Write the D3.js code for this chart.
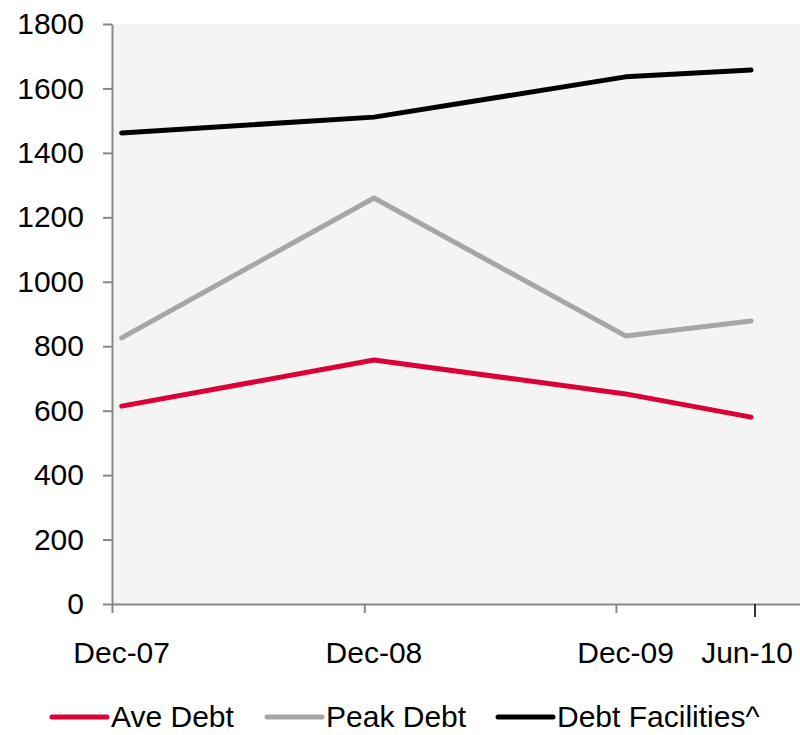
<!DOCTYPE html>
<html>
<head>
<meta charset="utf-8">
<script src="https://cdn.jsdelivr.net/npm/d3@7"></script>
<style>
  body { margin: 0; background: #fff; }
  svg { font-family: "Liberation Sans", Arial, sans-serif; }
</style>
</head>
<body>
<div id="chart"></div>
<script>
// data
var periods = ["2007-12-15", "2008-12-15", "2009-12-15", "2010-06-15"];
var periodLabels = ["Dec-07", "Dec-08", "Dec-09", "Jun-10"];
var tickDates = ["2007-12-01", "2008-12-01", "2009-12-01", "2010-06-20"];
var aveDebt = [614, 757, 652, 580];
var peakDebt = [826, 1260, 832, 878];
var debtFacilities = [1462, 1511, 1636, 1657];
var yTicks = [0, 200, 400, 600, 800, 1000, 1200, 1400, 1600, 1800];

var parse = d3.timeParse("%Y-%m-%d");

var series = [
  { name: "Ave Debt", values: aveDebt, color: "#dc0036" },
  { name: "Peak Debt", values: peakDebt, color: "#a6a6a6" },
  { name: "Debt Facilities^", values: debtFacilities, color: "#000000" }
];

var width = 800, height = 735;
var margin = { top: 24, right: 0, bottom: 131, left: 112 };

var svg = d3.select("#chart").append("svg")
    .attr("width", width)
    .attr("height", height);

var x = d3.scaleTime()
    .domain([parse("2007-12-01"), parse("2010-08-25")])
    .range([margin.left, width - margin.right]);
var y = d3.scaleLinear()
    .domain([0, 1800])
    .range([height - margin.bottom, margin.top]);

// plot background
svg.append("rect")
    .attr("x", x.range()[0])
    .attr("y", y(1800))
    .attr("width", x.range()[1] - x.range()[0])
    .attr("height", y(0) - y(1800))
    .attr("fill", "#f4f4f4");

// y axis
var yAxis = svg.append("g")
    .attr("transform", "translate(" + margin.left + ",0)")
    .call(d3.axisLeft(y).tickValues(yTicks).tickFormat(d3.format("d"))
      .tickSize(9).tickPadding(19).tickSizeOuter(0));
yAxis.select(".domain").attr("stroke", "#888").attr("stroke-width", 2);
yAxis.selectAll(".tick line").attr("stroke", "#888").attr("stroke-width", 2);
yAxis.selectAll("text").attr("font-size", 30).attr("fill", "#000")
    .attr("font-family", "Liberation Sans, Arial, sans-serif");

// x axis: ticks at month start, labels at the data points
var xAxis = svg.append("g")
    .attr("transform", "translate(0," + y(0) + ")")
    .call(d3.axisBottom(x).tickValues(tickDates.map(parse)).tickSize(9).tickFormat("").tickSizeOuter(0));
xAxis.select(".domain").attr("stroke", "#888").attr("stroke-width", 2);
xAxis.selectAll(".tick line").attr("stroke-width", 2)
    .attr("y2", function(d, i) { return i === tickDates.length - 1 ? 13 : 9; })
    .attr("stroke", function(d, i) { return i === tickDates.length - 1 ? "#333" : "#888"; });

svg.append("g").selectAll("text")
    .data(periods)
  .enter().append("text")
    .attr("x", function(d, i) { return x(parse(d)) - (i === periods.length - 1 ? 4 : 0); })
    .attr("y", y(0) + 59)
    .attr("text-anchor", "middle")
    .attr("font-size", 30)
    .text(function(d, i) { return periodLabels[i]; });

// lines
var line = d3.line()
    .x(function(d, i) { return x(parse(periods[i])); })
    .y(function(d) { return y(d); });

svg.append("g").selectAll("path")
    .data(series)
  .enter().append("path")
    .attr("d", function(s) { return line(s.values); })
    .attr("fill", "none")
    .attr("stroke", function(s) { return s.color; })
    .attr("stroke-width", 5)
    .attr("stroke-linejoin", "round")
    .attr("stroke-linecap", "round");

// legend
var legendX = [52, 267, 498];
var legend = svg.append("g").selectAll("g")
    .data(series)
  .enter().append("g")
    .attr("transform", function(d, i) { return "translate(" + legendX[i] + ",717)"; });
legend.append("line")
    .attr("x1", 0).attr("x2", 55)
    .attr("stroke", function(d) { return d.color; })
    .attr("stroke-width", 5)
    .attr("stroke-linecap", "round");
legend.append("text")
    .attr("x", 59)
    .attr("y", 10)
    .attr("font-size", 30)
    .text(function(d) { return d.name; });
</script>
</body>
</html>
